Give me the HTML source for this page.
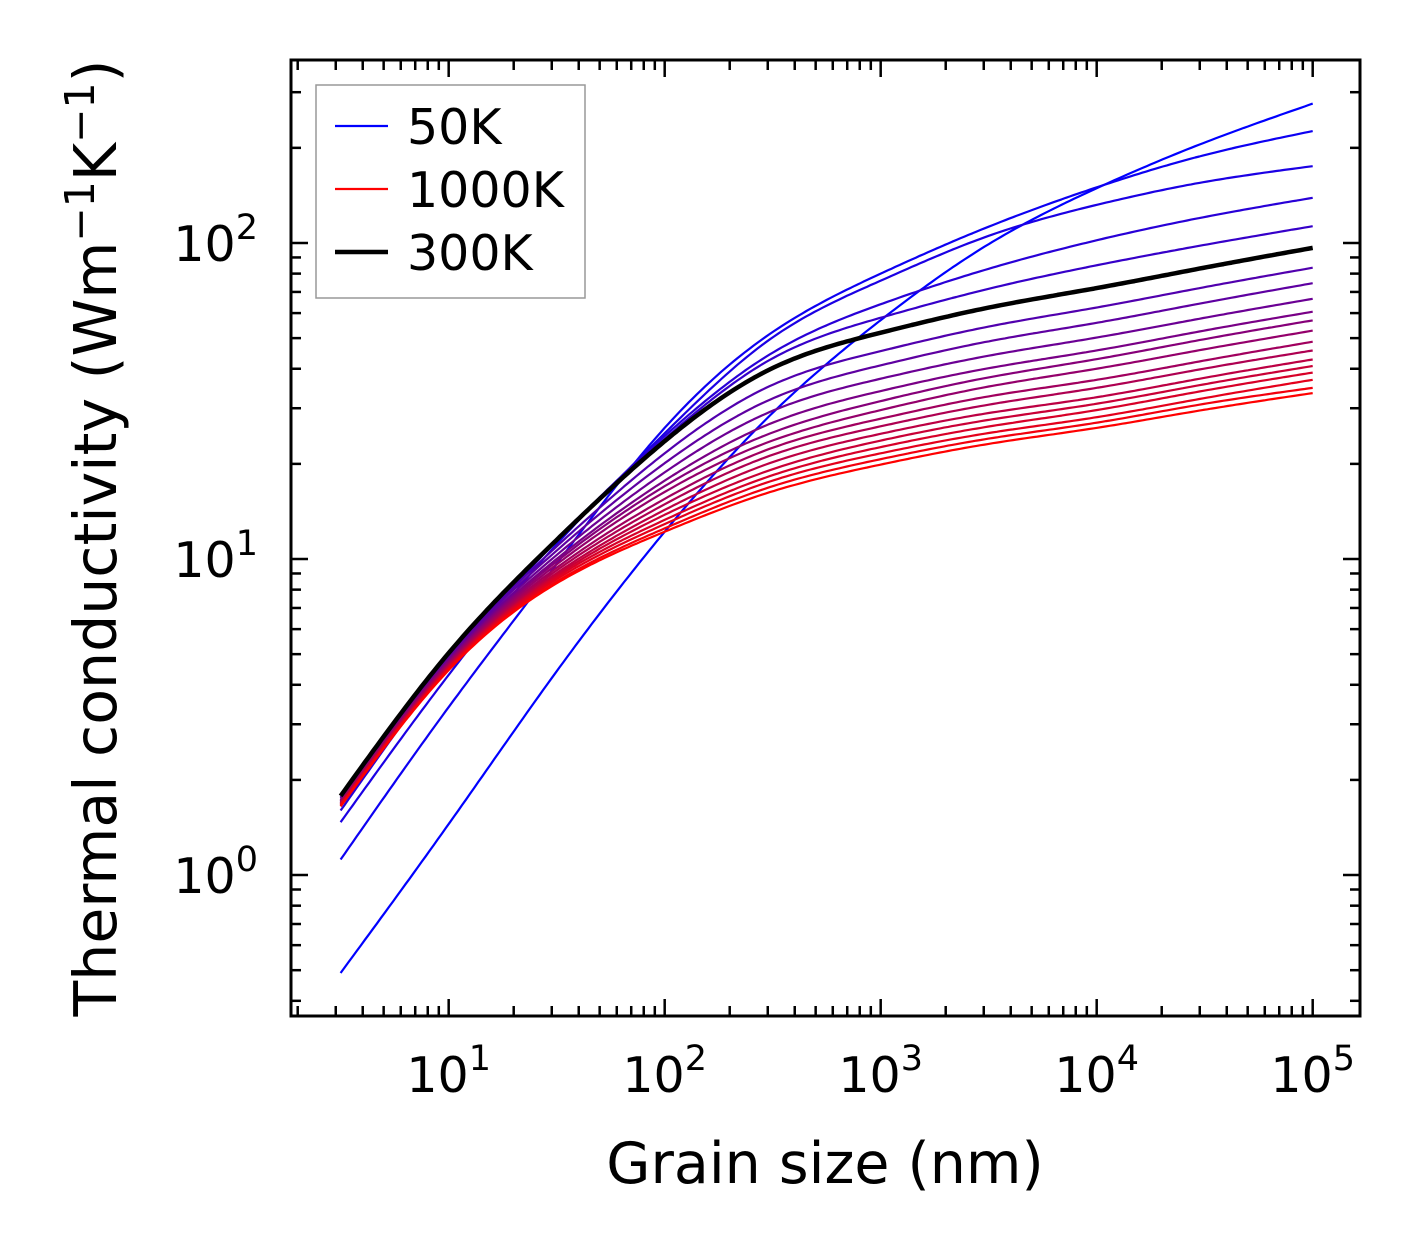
<!DOCTYPE html>
<html><head><meta charset="utf-8"><style>
body{margin:0;background:#fff}
svg{display:block;font-family:"DejaVu Sans","Liberation Sans",sans-serif}
</style></head><body>
<svg id="chart" width="1421" height="1254" viewBox="0 0 1421 1254" xmlns="http://www.w3.org/2000/svg">
<rect width="1421" height="1254" fill="#fff"/>
<g id="curves"></g>
<g id="axes"></g>
<rect x="291" y="60" width="1069" height="956" fill="none" stroke="#000" stroke-width="3"/>
<text x="825" y="1183" font-size="57" text-anchor="middle">Grain size (nm)</text>
<text transform="translate(116,538) rotate(-90)" font-size="58.5" text-anchor="middle">Thermal conductivity (Wm<tspan dy="-22" font-size="41">−1</tspan><tspan dy="22">K</tspan><tspan dy="-22" font-size="41">−1</tspan><tspan dy="22">)</tspan></text>
<g>
<rect x="316" y="85" width="269" height="213" fill="#fff" stroke="#999" stroke-width="1.5"/>
<line x1="335" y1="126" x2="388" y2="126" stroke="#0000ff" stroke-width="2.2"/>
<text x="407" y="144" font-size="49">50K</text>
<line x1="335" y1="189" x2="388" y2="189" stroke="#ff0000" stroke-width="2.2"/>
<text x="407" y="207" font-size="49">1000K</text>
<line x1="335" y1="252" x2="388" y2="252" stroke="#000" stroke-width="4.5"/>
<text x="407" y="270" font-size="49">300K</text>
</g>
</svg>
<script>
const grainSizes=[3.16,10,30,100,300,1000,3000,10000,30000,100000];
const temps=[50,100,150,200,250,300,350,400,450,500,550,600,650,700,750,800,850,900,950,1000];
const k50=[0.49,1.45,4.2,12.2,28,57,97,149,205,276];
const k100=[1.12,3.4,9.2,26,51,80,111,150,188,226];
const k150=[1.47,4.3,10.7,25,49,76,104,132,155,175];
const k200=[1.6,4.7,11,24.5,44,64,82,102,120,139];
const k250=[1.7,4.95,11.2,24,42.3,58,71,85,98,113];
const k300=[1.78,5.04,11.1,23.6,39.5,52,62,72,83,96.5];
const k350=[1.76,4.95,10.6,21.6,35,45.5,54,62.5,72,83.5];
const k400=[1.75,4.89,10.3,20.1,31.7,41,48.5,55.9,64.3,74.6];
const k450=[1.73,4.82,9.99,18.8,29.0,37.2,43.7,50.2,57.6,66.6];
const k500=[1.72,4.77,9.72,17.7,26.6,34,39.9,45.7,52.5,60.6];
const k550=[1.71,4.74,9.55,17.0,24.8,31.6,37.3,42.9,49.3,56.9];
const k600=[1.71,4.70,9.35,16.3,23.4,29.6,34.9,40.0,45.8,52.8];
const k650=[1.69,4.65,9.14,15.5,22.2,27.8,32.5,36.9,42.2,48.7];
const k700=[1.69,4.62,8.97,14.9,21.1,26.3,30.6,34.8,39.8,45.7];
const k750=[1.68,4.58,8.80,14.3,20.0,24.9,28.8,32.5,37.2,42.8];
const k800=[1.67,4.56,8.68,13.8,19.0,23.7,27.4,31.0,35.5,40.8];
const k850=[1.67,4.53,8.57,13.3,18.2,22.6,26.1,29.6,33.9,38.9];
const k900=[1.66,4.50,8.44,12.9,17.5,21.6,24.9,28.1,32.1,36.9];
const k950=[1.65,4.47,8.30,12.5,16.8,20.7,23.9,27.0,30.8,34.8];
const k1000=[1.65,4.45,8.2,12.2,16.2,19.9,23.0,26.0,29.5,33.5];
const series=[k50,k100,k150,k200,k250,k300,k350,k400,k450,k500,k550,k600,k650,k700,k750,k800,k850,k900,k950,k1000];
const xTickLabels=["1","2","3","4","5"];
const yTickLabels=["0","1","2"];

const NS="http://www.w3.org/2000/svg";
const L=291,R=1360,T=60,B=1016;
const xMin=0.270,xMax=5.219,yMin=-0.446,yMax=2.579;
const xs=v=>L+(Math.log10(v)-xMin)/(xMax-xMin)*(R-L);
const ys=v=>B-(Math.log10(v)-yMin)/(yMax-yMin)*(B-T);
function mk(tag,attrs,parent){const e=document.createElementNS(NS,tag);for(const k in attrs)e.setAttribute(k,attrs[k]);parent.appendChild(e);return e;}
function spline(X,Y){
  const n=X.length,h=[],a=[],l=[1],mu=[0],z=[0],c=new Array(n).fill(0),b=[],d=[];
  for(let i=0;i<n-1;i++)h.push(X[i+1]-X[i]);
  for(let i=1;i<n-1;i++)a[i]=3/h[i]*(Y[i+1]-Y[i])-3/h[i-1]*(Y[i]-Y[i-1]);
  for(let i=1;i<n-1;i++){l[i]=2*(X[i+1]-X[i-1])-h[i-1]*mu[i-1];mu[i]=h[i]/l[i];z[i]=(a[i]-h[i-1]*z[i-1])/l[i];}
  for(let j=n-2;j>=0;j--){c[j]=(j===0?0:z[j]-mu[j]*c[j+1]);b[j]=(Y[j+1]-Y[j])/h[j]-h[j]*(c[j+1]+2*c[j])/3;d[j]=(c[j+1]-c[j])/(3*h[j]);}
  return t=>{let j=0;while(j<n-2&&t>X[j+1])j++;const dx=t-X[j];return Y[j]+b[j]*dx+c[j]*dx*dx+d[j]*dx*dx*dx;};
}
function pathFor(vals){
  const X=grainSizes.map(Math.log10),Y=vals.map(Math.log10);
  const f=spline(X,Y);
  const N=240;let d="";
  for(let i=0;i<=N;i++){
    const t=X[0]+(X[X.length-1]-X[0])*i/N;
    const px=xs(Math.pow(10,t)),py=ys(Math.pow(10,f(t)));
    d+=(i?"L":"M")+px.toFixed(1)+","+py.toFixed(1);
  }
  return d;
}
const cg=document.getElementById("curves");
let blackIdx=-1;
series.forEach((vals,i)=>{
  const T0=temps[i];
  if(T0===300){blackIdx=i;return;}
  const t=(T0-50)/950;
  const col="rgb("+Math.round(255*t)+",0,"+Math.round(255*(1-t))+")";
  const el=mk("path",{d:pathFor(vals),fill:"none",stroke:col,"stroke-width":2.2,"stroke-linejoin":"round"},cg);
  
  
});
if(blackIdx>=0){
  const el=mk("path",{d:pathFor(series[blackIdx]),fill:"none",stroke:"#000","stroke-width":4.5,"stroke-linejoin":"round"},cg);
  
  
}
const ag=document.getElementById("axes");
for(let e=0;e<=5;e++){
  for(let m=1;m<10;m++){
    const v=m*Math.pow(10,e);const x=xs(v);
    if(x<L+1||x>R-1)continue;
    const len=m===1?17:10;
    const t1=mk("line",{x1:x,y1:B,x2:x,y2:B-len,stroke:"#000","stroke-width":2.5},ag);
    
    
    mk("line",{x1:x,y1:T,x2:x,y2:T+len,stroke:"#000","stroke-width":2.5},ag);
  }
}
xTickLabels.forEach(s=>{
  const x=xs(Math.pow(10,+s));
  const tx=mk("text",{x:x,y:1092,"font-size":49,"text-anchor":"middle"},ag);
  
  
  tx.innerHTML='10<tspan dy="-22" font-size="35">'+s+'</tspan>';
});
for(let e=-1;e<=2;e++){
  for(let m=1;m<10;m++){
    const v=m*Math.pow(10,e);const y=ys(v);
    if(y<T+1||y>B-1)continue;
    const len=m===1?17:10;
    const t1=mk("line",{x1:L,y1:y,x2:L+len,y2:y,stroke:"#000","stroke-width":2.5},ag);
    
    
    mk("line",{x1:R,y1:y,x2:R-len,y2:y,stroke:"#000","stroke-width":2.5},ag);
  }
}
yTickLabels.forEach(s=>{
  const y=ys(Math.pow(10,+s));
  const tx=mk("text",{x:258,y:y+18,"font-size":49,"text-anchor":"end"},ag);
  
  
  tx.innerHTML='10<tspan dy="-22" font-size="35">'+s+'</tspan>';
});
</script>
</body></html>
